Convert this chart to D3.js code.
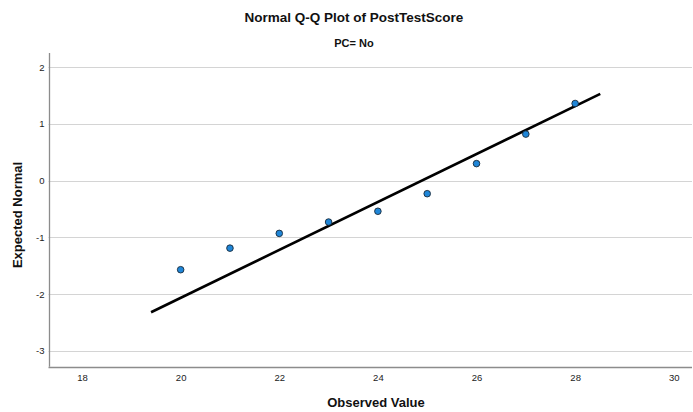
<!DOCTYPE html>
<html>
<head>
<meta charset="utf-8">
<script src="https://cdn.jsdelivr.net/npm/d3@7"></script>
<style>
  html, body { margin: 0; padding: 0; background: #fff; }
  svg { display: block; font-family: "Liberation Sans", Arial, sans-serif; }
</style>
</head>
<body>
<svg id="chart" width="693" height="412"></svg>
<script>
// Observed PostTestScore values and their expected normal quantiles
const observed = [20, 21, 22, 23, 24, 25, 26, 27, 28];
const expectedNormal = [-1.57, -1.19, -0.93, -0.73, -0.54, -0.23, 0.30, 0.82, 1.36];

// Reference line endpoints [observed, expected]
const refLineX = [19.40, 28.51];
const refLineY = [-2.32, 1.53];

// Axis tick values
const xTicks = [18, 20, 22, 24, 26, 28, 30];
const yTicks = [-3, -2, -1, 0, 1, 2];

const svg = d3.select("#chart");
const plot = { left: 48.5, right: 692, top: 53, bottom: 366.7 };

const x = d3.scaleLinear().domain([17.32, 30.37]).range([plot.left, plot.right]);
const y = d3.scaleLinear().domain([-3.28, 2.25]).range([plot.bottom, plot.top]);

// Plain hyphen for negative tick labels
const tickText = d => String(d);

// Titles
svg.append("text")
  .attr("x", 354).attr("y", 22)
  .attr("text-anchor", "middle")
  .attr("font-size", 13.5).attr("font-weight", "bold").attr("fill", "#111")
  .text("Normal Q-Q Plot of PostTestScore");
svg.append("text")
  .attr("x", 354).attr("y", 47)
  .attr("text-anchor", "middle")
  .attr("font-size", 11).attr("font-weight", "bold").attr("fill", "#111")
  .text("PC= No");

// Horizontal gridlines
svg.append("g").selectAll("line").data(yTicks).join("line")
  .attr("x1", plot.left).attr("x2", plot.right)
  .attr("y1", d => Math.round(y(d)) + 0.5).attr("y2", d => Math.round(y(d)) + 0.5)
  .attr("stroke", "#d4d4d4").attr("stroke-width", 1.2);

// Y axis
const yAxis = svg.append("g")
  .attr("transform", `translate(${Math.round(plot.left) + 0.5},0)`)
  .call(d3.axisLeft(y).tickValues(yTicks).tickFormat(tickText).tickSize(0).tickPadding(5));
yAxis.select(".domain").attr("stroke", "#8c8c8c").attr("stroke-width", 1.3)
  .attr("d", `M0,${plot.top}V${plot.bottom}`);
yAxis.selectAll("text").attr("font-size", 9.5).attr("fill", "#222")
  .attr("font-family", "Liberation Sans, Arial, sans-serif");

// X axis
const xAxis = svg.append("g")
  .attr("transform", `translate(0,${Math.round(plot.bottom) + 0.5})`)
  .call(d3.axisBottom(x).tickValues(xTicks).tickFormat(tickText).tickSize(0).tickPadding(7));
xAxis.select(".domain").attr("stroke", "#8c8c8c").attr("stroke-width", 1.3)
  .attr("d", `M${plot.left},0H${plot.right}`);
xAxis.selectAll("text").attr("font-size", 9.5).attr("fill", "#222")
  .attr("font-family", "Liberation Sans, Arial, sans-serif");

// Axis titles
svg.append("text")
  .attr("transform", "translate(22,215) rotate(-90)")
  .attr("text-anchor", "middle")
  .attr("font-size", 13).attr("font-weight", "bold").attr("fill", "#111")
  .text("Expected Normal");
svg.append("text")
  .attr("x", 376).attr("y", 407)
  .attr("text-anchor", "middle")
  .attr("font-size", 13).attr("font-weight", "bold").attr("fill", "#111")
  .text("Observed Value");

// Reference line
svg.append("line")
  .attr("x1", x(refLineX[0])).attr("y1", y(refLineY[0]))
  .attr("x2", x(refLineX[1])).attr("y2", y(refLineY[1]))
  .attr("stroke", "#000").attr("stroke-width", 2.6);

// Data points
svg.append("g").selectAll("circle").data(observed).join("circle")
  .attr("cx", d => x(d))
  .attr("cy", (d, i) => y(expectedNormal[i]))
  .attr("r", 3.3)
  .attr("fill", "#1f86d8")
  .attr("stroke", "#1a2a3a").attr("stroke-width", 0.9);
</script>
</body>
</html>
